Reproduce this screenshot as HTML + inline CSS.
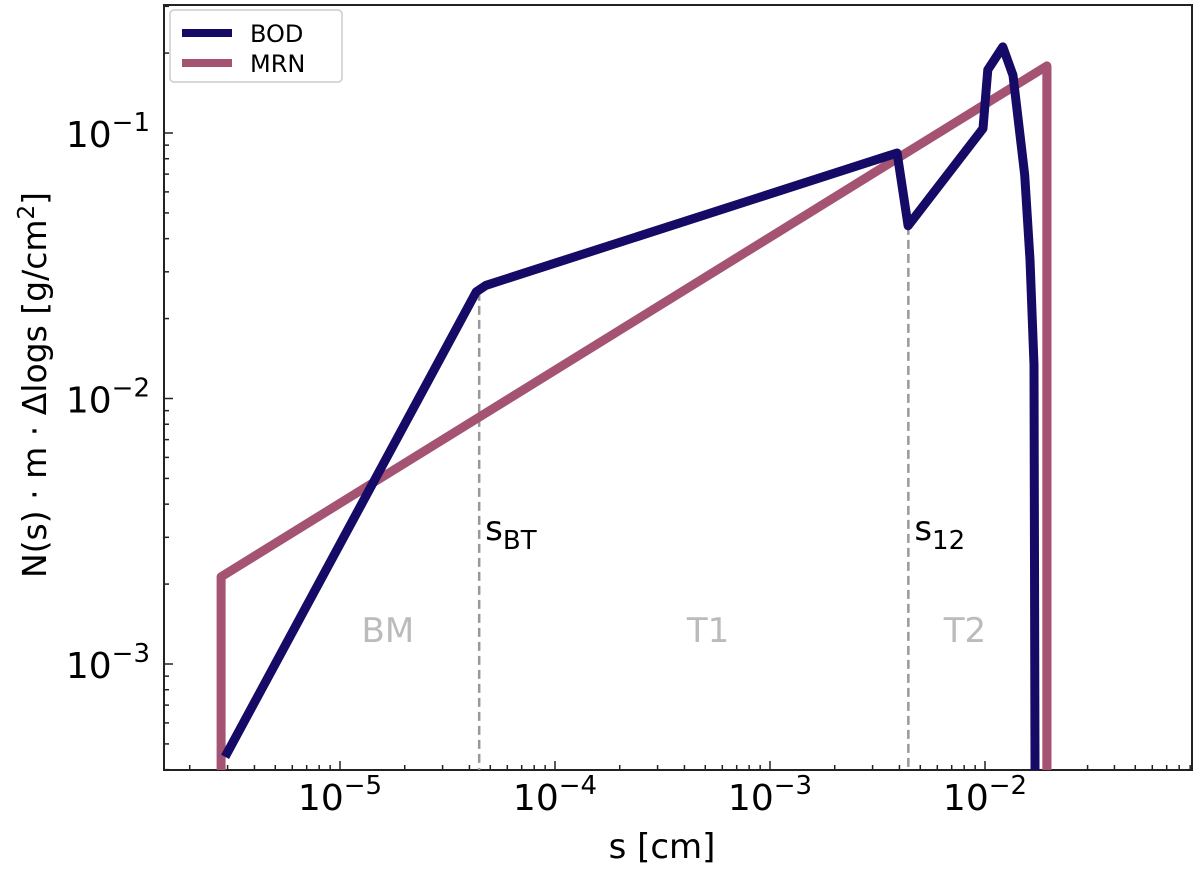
<!DOCTYPE html>
<html><head><meta charset="utf-8"><style>
body{margin:0;background:#fff}
svg{font-family:"DejaVu Sans","Liberation Sans",sans-serif}
</style></head><body>
<svg id="c" width="1200" height="866">
<defs><clipPath id="cp"><rect x="164" y="5" width="1028" height="765"/></clipPath></defs>
<rect x="164" y="5" width="1028" height="765" fill="#fff" stroke="#222" stroke-width="2"/>
<g id="ticks"></g>
<g id="guides" clip-path="url(#cp)"></g>
<g id="series" clip-path="url(#cp)"></g>
<g id="labels"></g>
<text x="46" y="385" transform="rotate(-90 46 385)" text-anchor="middle" font-size="33">N(s) · m · Δlogs [g/cm<tspan dy="-12" font-size="23">2</tspan><tspan dy="12">]</tspan></text>
<text x="662" y="858" text-anchor="middle" font-size="34">s [cm]</text>
<g>
<rect x="170" y="10" width="172" height="72" rx="4" fill="#fff" stroke="#ccc" stroke-width="1.5"/>
<line x1="182" y1="33" x2="232" y2="33" stroke="#150b66" stroke-width="8"/>
<text x="250" y="42" font-size="24">BOD</text>
<line x1="182" y1="63" x2="232" y2="63" stroke="#a45373" stroke-width="8"/>
<text x="250" y="72" font-size="24">MRN</text>
</g>
</svg>
<script>
const bodS=[2.92e-6,4.30e-5,4.78e-5,3.90e-3,4.39e-3,9.79e-3,1.03e-2,1.21e-2,1.35e-2,1.53e-2,1.62e-2,1.69e-2,1.71e-2];
const bodV=[4.47e-4,2.52e-2,2.67e-2,8.41e-2,4.47e-2,1.04e-1,1.73e-1,2.11e-1,1.65e-1,6.95e-2,3.33e-2,1.34e-2,3.0e-4];
const mrnS=[2.8e-6,2.8e-6,1.94e-2,1.94e-2];
const mrnV=[3.0e-4,2.13e-3,1.79e-1,3.0e-4];
const guideS=[4.44e-5,4.4e-3];
const guideTop=[2.52e-2,4.47e-2];
const xTickExp=[-5,-4,-3,-2];
const yTickExp=[-3,-2,-1];
const regionNames=["BM","T1","T2"];
const regionS=[1.67e-5,5.15e-4,8.07e-3];
const NS="http://www.w3.org/2000/svg";
function X(s){return 340+(Math.log10(s)+5)*215;}
function Y(v){return 664-(Math.log10(v)+3)*265.5;}
function mk(t,a,p){const e=document.createElementNS(NS,t);for(const k in a)e.setAttribute(k,a[k]);document.getElementById(p).appendChild(e);return e;}
for(let d=-6;d<=-1;d++){for(let m=1;m<10;m++){const s=m*Math.pow(10,d);const x=X(s);if(x<164||x>1192)continue;
const t=mk('line',{x1:x,x2:x,y1:770,y2:770-(m==1?9:5),stroke:'#222','stroke-width':1.5},'ticks');

}}
for(let d=-4;d<=0;d++){for(let m=1;m<10;m++){const v=m*Math.pow(10,d);const y=Y(v);if(y<5||y>770)continue;
const t=mk('line',{x1:164,x2:164+(m==1?9:5),y1:y,y2:y,stroke:'#222','stroke-width':1.5},'ticks');

}}
xTickExp.forEach(e=>{const t=mk('text',{x:X(Math.pow(10,e)),y:810,'text-anchor':'middle','font-size':36},'labels');


t.innerHTML='10<tspan dy="-16" font-size="26">−'+(-e)+'</tspan>';});
yTickExp.forEach(e=>{const t=mk('text',{x:150,y:Y(Math.pow(10,e))+14,'text-anchor':'end','font-size':36},'labels');


t.innerHTML='10<tspan dy="-16" font-size="26">−'+(-e)+'</tspan>';});
guideS.forEach((s,i)=>{const l=mk('line',{x1:X(s),x2:X(s),y1:Y(guideTop[i]),y2:770,stroke:'#999','stroke-width':2.5,'stroke-dasharray':'9,5'},'guides');

});
const sl=['BT','12'];
guideS.forEach((s,i)=>{const t=mk('text',{x:X(s)+6,y:540,'font-size':34},'labels');


t.innerHTML='s<tspan dy="9" font-size="26">'+sl[i]+'</tspan>';});
regionNames.forEach((n,i)=>{const t=mk('text',{x:X(regionS[i]),y:642,'text-anchor':'middle','font-size':34,fill:'#bbb'},'labels');


t.textContent=n;});
function pts(S,V){return S.map((s,i)=>X(s).toFixed(1)+','+Y(V[i]).toFixed(1)).join(' ');}
const m=mk('polyline',{points:pts(mrnS,mrnV),fill:'none',stroke:'#a45373','stroke-width':9,'stroke-linejoin':'round'},'series');


const b=mk('polyline',{points:pts(bodS,bodV),fill:'none',stroke:'#150b66','stroke-width':9,'stroke-linejoin':'round'},'series');


const m2=mk('polyline',{points:pts(mrnS.slice(2),mrnV.slice(2)),fill:'none',stroke:'#a45373','stroke-width':9},'series');


</script>
</body></html>
